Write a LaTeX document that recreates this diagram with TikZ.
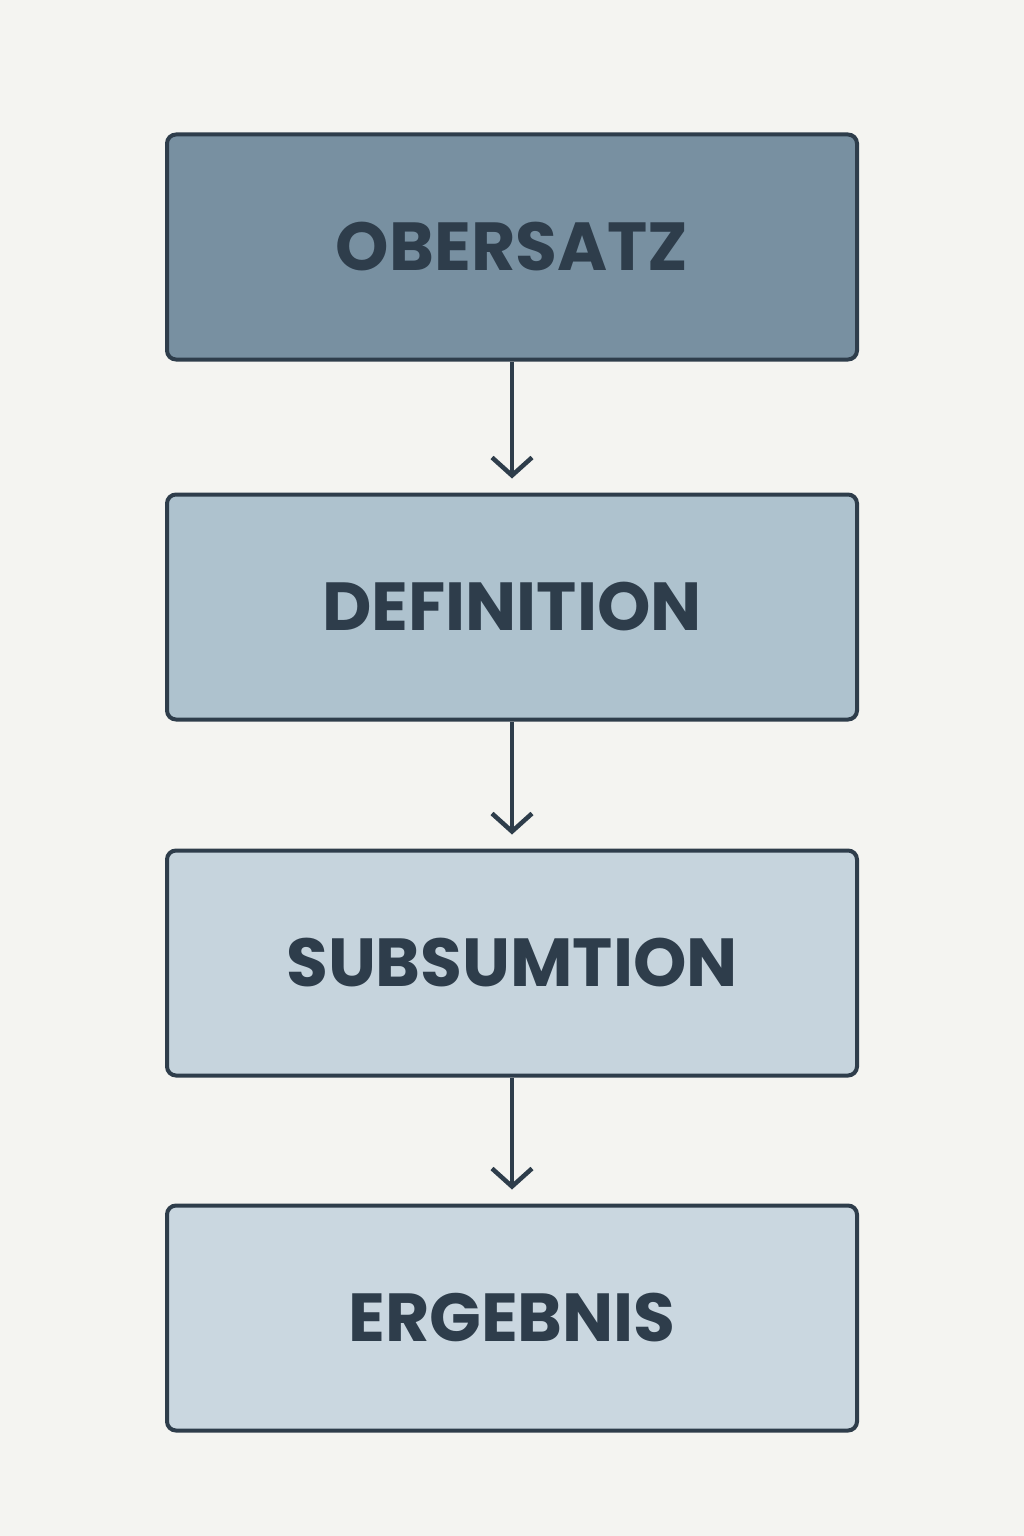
\documentclass[tikz,border=0pt]{standalone}
\usepackage{fontspec}
\setmainfont{Poppins}
\usetikzlibrary{arrows.meta}
\definecolor{bg}{HTML}{F4F4F1}
\definecolor{edge}{HTML}{2E3D4B}
\definecolor{c1}{HTML}{7890A1}
\definecolor{c2}{HTML}{AEC2CE}
\definecolor{c3}{HTML}{C6D4DD}
\definecolor{c4}{HTML}{CAD7E0}
\begin{document}
\begin{tikzpicture}[x=1pt,y=-1pt,
 box/.style={draw=edge,line width=4pt,rounded corners=9pt,minimum width=690pt,minimum height=225pt,inner sep=0pt,text=edge,font=\fontsize{68}{68}\selectfont\bfseries},
 arr/.style={draw=edge,line width=4.5pt,-{Straight Barb[length=18pt,width=40pt,line width=4.5pt]}}]
\fill[bg] (0,0) rectangle (1024,1536);
\node[box,fill=c1] (a) at (512,247) {OBERSATZ};
\node[box,fill=c2] (b) at (512,607) {DEFINITION};
\node[box,fill=c3] (c) at (512,963) {SUBSUMTION};
\node[box,fill=c4] (d) at (512,1318) {ERGEBNIS};
\draw[arr] (a.south) -- ([yshift=14pt]b.north);
\draw[arr] (b.south) -- ([yshift=14pt]c.north);
\draw[arr] (c.south) -- ([yshift=14pt]d.north);
\end{tikzpicture}
\end{document}
